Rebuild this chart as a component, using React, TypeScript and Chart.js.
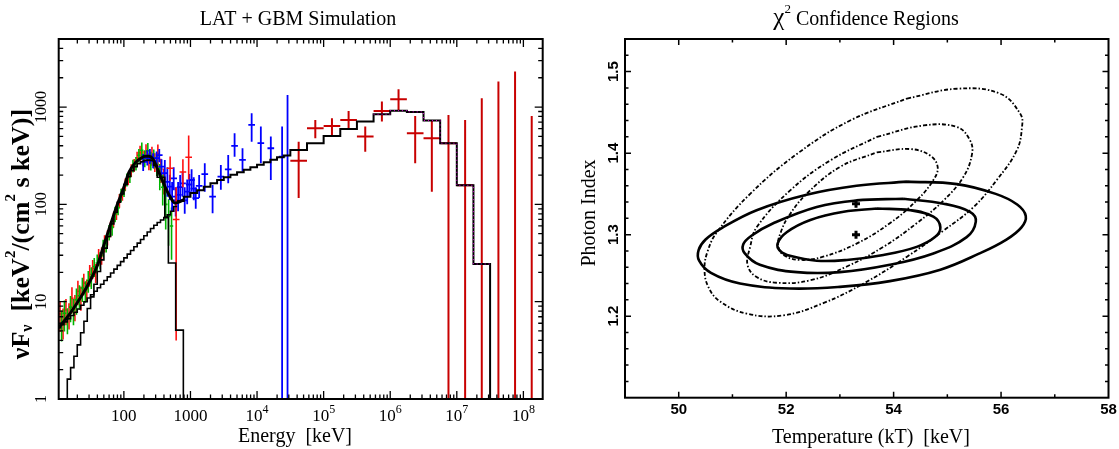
import { useEffect, useRef } from "react";
import { Chart, registerables } from "chart.js";

Chart.register(...registerables);

const SERIF = "'Liberation Serif','Times New Roman',serif";
const SANS = "'Liberation Sans',Arial,sans-serif";

// ================= LEFT PANEL: LAT + GBM Simulation =================
// smooth total model curve (keV, keV^2/(cm^2 s keV))
const modelE = [10.5, 15, 20, 25, 32, 40, 50, 60, 70, 80, 100, 120, 150, 180, 210, 240, 270, 310, 360, 437, 500, 583, 680, 780];
const modelF = [5.4, 7.3, 9.8, 12.5, 17, 23.5, 38, 56, 77, 100, 150, 215, 270, 298, 312, 312, 295, 244, 190, 141, 118, 103, 106, 111];

// power-law component (binned)
const plEdges = [10, 11.22, 12.59, 14.13, 15.85, 17.78, 19.95, 22.39, 25.12, 28.18, 31.62, 35.48, 39.81, 44.67, 50.12, 56.23, 63.1, 70.79, 79.43, 89.13, 100, 112.2, 125.9, 141.3, 158.5, 177.8, 199.5, 223.9, 251.2, 281.8, 316.2, 354.8, 398.1, 446.7, 501.2, 562.3, 631.0];
const plF = [5.4, 5.8, 6.2, 6.7, 7.2, 7.8, 8.4, 9.2, 10.0, 10.9, 11.8, 12.8, 13.9, 15.1, 16.5, 18.0, 19.7, 21.6, 23.6, 25.8, 28.2, 30.8, 33.6, 36.7, 40, 43.6, 47.5, 52, 56.5, 61, 65, 69, 73, 78, 85, 95];

// blackbody component (binned)
const bbEdges = [14.13, 15.85, 17.78, 19.95, 22.39, 25.12, 28.18, 31.62, 35.48, 39.81, 44.67, 50.12, 56.23, 63.1, 70.79, 79.43, 89.13, 100, 112.2, 125.9, 141.3, 158.5, 177.8, 199.5, 223.9, 251.2, 281.8, 316.2, 412, 466, 600, 782];
const bbF = [1.6, 2.1, 2.75, 3.6, 4.8, 6.3, 8.5, 11.2, 15.1, 20.4, 26.9, 35.5, 46.8, 63, 83, 105, 128, 160, 192, 222, 244, 262, 275, 282, 285, 282, 251, 190, 74, 25, 5.1];

// total model, BGO + LAT bins
const totEdges = [631, 794, 1000, 1259, 1585, 1995, 2512, 3162, 3981, 5012, 6310, 7943, 10000, 12589, 15849, 19953, 25119, 31623, 56234, 1e5, 177828, 316228, 562341, 1e6, 1778279, 3162278, 5623413, 1e7, 17782794, 31622777];
const totF = [108, 120, 131, 140, 152, 165, 178, 190, 202, 214, 227, 241, 255, 270, 288, 305, 318, 362, 425, 505, 596, 708, 843, 918, 891, 725, 425, 157, 24.4];

// NaI detector 1 (red)
const redE = [11, 12.2, 13.5, 15, 16.6, 18.4, 20.4, 22.6, 25, 27.7, 30.7, 34, 37.7, 41.8, 46.3, 51.3, 56.8, 63, 69.8, 77.3, 85.7, 95, 105, 116, 129, 143, 158, 175, 194, 215, 238, 264, 292, 324, 359, 398];
const redF = [7.5, 6.3, 8.2, 7.4, 10.8, 9.0, 12.8, 11.2, 15.5, 13.5, 19, 22, 20, 29, 30, 40, 46, 56, 70, 82, 110, 128, 160, 185, 225, 255, 300, 340, 300, 345, 280, 320, 275, 330, 230, 180];
const redErr = [0.35, 0.35, 0.3, 0.3, 0.3, 0.3, 0.28, 0.28, 0.25, 0.25, 0.25, 0.22, 0.22, 0.2, 0.2, 0.2, 0.18, 0.18, 0.18, 0.16, 0.16, 0.15, 0.15, 0.15, 0.15, 0.15, 0.16, 0.18, 0.18, 0.2, 0.2, 0.22, 0.22, 0.25, 0.28, 0.3];
// NaI detector 1, high-energy channels
const redHiE = [495, 610, 770, 940];
const redHiF = [235, 70, 215, 305];
const redHiLo = [175, 4, 150, 180];
const redHiHi = [310, 150, 290, 510];

// NaI detector 2 (green)
const greenE = [11.6, 12.8, 14.2, 15.8, 17.5, 19.4, 21.5, 23.8, 26.4, 29.2, 32.4, 35.9, 39.8, 44.1, 48.9, 54.2, 60.1, 66.6, 73.8, 81.8, 90.7, 100.5, 111, 123, 137, 152, 168, 186, 206, 229, 254, 281, 312, 346, 383, 425, 470, 520];
const greenF = [6.0, 7.6, 6.6, 8.8, 8.2, 10.5, 11.5, 13.8, 13, 16.5, 18, 23, 25, 27, 36, 40, 52, 58, 80, 92, 125, 140, 180, 195, 250, 265, 320, 360, 300, 355, 285, 300, 260, 200, 150, 100, 75, 60];
const greenErr = [0.35, 0.35, 0.3, 0.3, 0.3, 0.3, 0.28, 0.28, 0.25, 0.25, 0.25, 0.22, 0.22, 0.2, 0.2, 0.2, 0.18, 0.18, 0.18, 0.16, 0.16, 0.15, 0.15, 0.15, 0.15, 0.16, 0.16, 0.2, 0.2, 0.2, 0.22, 0.22, 0.25, 0.3, 0.35, 0.45, 0.5, 0.55];

// BGO (blue)
const blueE = [195, 225, 246, 275, 310, 340, 368, 412, 450, 490, 530, 560, 600, 652, 700, 760, 820, 893, 960, 1040, 1120, 1200, 1350, 1640, 2150, 2860, 3690, 4600, 6050, 8300, 11400, 16100, 23800, 28700];
const blueF = [273, 300, 309, 280, 299, 320, 244, 209, 170, 152, 120, 185, 110, 125, 150, 164, 110, 135, 160, 178, 145, 116, 155, 204, 120, 193, 229, 398, 286, 655, 425, 377, 309, 0.3];
const blueLo = [220, 250, 260, 235, 250, 270, 200, 150, 120, 111, 85, 140, 75, 85, 110, 120, 80, 100, 120, 135, 110, 90, 116, 135, 81, 141, 165, 309, 217, 441, 264, 178, 0.01, 0.01];
const blueHi = [330, 360, 370, 335, 350, 370, 290, 286, 240, 201, 170, 240, 150, 170, 200, 215, 150, 180, 205, 230, 190, 150, 200, 264, 158, 254, 322, 538, 377, 861, 629, 497, 629, 1331];

// LAT (dark red), quarter-decade bins
const latE = [42170, 74989, 133352, 237137, 421697, 749894, 1333521, 2371374, 4216965, 7498942, 13335214, 23713737, 42169650, 74989421, 133352143];
const latF = [281, 605, 640, 736, 497, 912, 1203, 538, 478, 425, 157, 24.4, 0.3, 0.3, 0.3];
const latLo = [116, 478, 517, 591, 348, 708, 934, 264, 135, 0.01, 0.01, 0.01, 0.01, 0.01, 0.01];
const latHi = [441, 736, 767, 912, 629, 1137, 1524, 811, 736, 829, 736, 1233, 1824, 2312, 811];

const leftXLabels: [number, string, string][] = [[100, "100", ""], [1000, "1000", ""], [1e4, "10", "4"], [1e5, "10", "5"], [1e6, "10", "6"], [1e7, "10", "7"], [1e8, "10", "8"]];
const leftYLabels: [number, string][] = [[1, "1"], [10, "10"], [100, "100"], [1000, "1000"]];

// ================= RIGHT PANEL: chi^2 confidence regions =================
const solidInner = [[53.69, 1.332], [54.31, 1.330], [54.74, 1.322], [54.87, 1.309], [54.77, 1.297], [54.43, 1.285], [53.81, 1.275], [53.13, 1.269], [52.57, 1.268], [52.07, 1.274], [51.89, 1.280], [51.84, 1.289], [52.01, 1.303], [52.45, 1.318], [53.07, 1.328]];
const solidMid = [[54.18, 1.344], [54.93, 1.338], [55.42, 1.328], [55.53, 1.316], [55.36, 1.297], [54.74, 1.277], [53.93, 1.263], [53.0, 1.254], [52.2, 1.254], [51.51, 1.263], [51.23, 1.277], [51.2, 1.288], [51.36, 1.299], [51.76, 1.314], [52.57, 1.334], [53.31, 1.342]];
const solidOuter = [[54.25, 1.365], [55.18, 1.362], [55.9, 1.350], [56.3, 1.337], [56.46, 1.323], [56.38, 1.309], [56.1, 1.294], [55.6, 1.277], [54.87, 1.257], [53.93, 1.243], [53.0, 1.236], [52.07, 1.234], [51.14, 1.240], [50.6, 1.253], [50.38, 1.268], [50.37, 1.281], [50.5, 1.294], [50.8, 1.308], [51.45, 1.330], [52.38, 1.349], [53.31, 1.360]];
const dashInner = [[53.69, 1.401], [54.31, 1.405], [54.68, 1.397], [54.82, 1.383], [54.74, 1.367], [54.43, 1.342], [53.93, 1.314], [53.31, 1.289], [52.69, 1.273], [52.26, 1.269], [51.95, 1.275], [51.85, 1.287], [51.9, 1.303], [52.04, 1.322], [52.38, 1.350], [53.0, 1.383]];
const dashMid = [[53.69, 1.420], [54.56, 1.434], [55.18, 1.432], [55.42, 1.416], [55.46, 1.399], [55.3, 1.371], [54.93, 1.342], [54.43, 1.314], [53.81, 1.285], [53.13, 1.261], [52.45, 1.244], [51.82, 1.241], [51.45, 1.248], [51.28, 1.263], [51.33, 1.285], [51.45, 1.309], [52.07, 1.354], [52.82, 1.391]];
const dashOuter = [[54.25, 1.467], [55.18, 1.479], [55.98, 1.473], [56.36, 1.448], [56.39, 1.432], [56.29, 1.403], [55.92, 1.367], [55.49, 1.334], [54.93, 1.305], [54.25, 1.273], [53.44, 1.240], [52.69, 1.216], [51.95, 1.201], [51.27, 1.203], [50.77, 1.218], [50.55, 1.236], [50.48, 1.258], [50.54, 1.280], [50.71, 1.303], [51.33, 1.350], [52.2, 1.399], [53.19, 1.440]];
const bestFitX = [53.3, 53.3];
const bestFitY = [1.30, 1.338];

const rightXLabels = [50, 52, 54, 56, 58];
const rightYLabels = [1.2, 1.3, 1.4, 1.5];

// ================= helpers =================
const FLOOR = 0.3;
type P = { x: number; y: number | null };

function stepPoints(edges: number[], vals: number[], dropStart: boolean, dropEnd: boolean): P[] {
  const pts: P[] = [];
  if (dropStart) pts.push({ x: edges[0], y: FLOOR });
  vals.forEach((v, i) => pts.push({ x: edges[i], y: v }));
  pts.push({ x: edges[edges.length - 1], y: vals[vals.length - 1] });
  if (dropEnd) pts.push({ x: edges[edges.length - 1], y: FLOOR });
  return pts;
}

function crossPoints(E: number[], F: number[], lo: number[], hi: number[], hw: number): P[] {
  const k = Math.pow(10, hw);
  const pts: P[] = [];
  E.forEach((e, i) => {
    pts.push({ x: e / k, y: F[i] }, { x: e * k, y: F[i] }, { x: e, y: null });
    pts.push({ x: e, y: lo[i] }, { x: e, y: hi[i] }, { x: e, y: null });
  });
  return pts;
}

function closed(pts: number[][]): P[] {
  const out = pts.map(([x, y]) => ({ x, y }));
  out.push({ x: pts[0][0], y: pts[0][1] });
  return out;
}

function lineDs(data: P[], color: string, width: number, extra: any = {}) {
  return {
    data,
    showLine: true,
    borderColor: color,
    backgroundColor: color,
    borderWidth: width,
    pointRadius: 0,
    pointHoverRadius: 0,
    fill: false,
    spanGaps: false,
    ...extra,
  };
}

type Seg = { t: string; f: string; dy?: number };
function drawRich(ctx: CanvasRenderingContext2D, segs: Seg[], cx: number, cy: number, rot = 0, baseline: CanvasTextBaseline = "alphabetic") {
  ctx.save();
  ctx.translate(cx, cy);
  if (rot) ctx.rotate(rot);
  ctx.textBaseline = baseline;
  ctx.textAlign = "left";
  ctx.fillStyle = "#000";
  let w = 0;
  for (const s of segs) {
    ctx.font = s.f;
    w += ctx.measureText(s.t).width;
  }
  let x = -w / 2;
  for (const s of segs) {
    ctx.font = s.f;
    ctx.fillText(s.t, x, s.dy || 0);
    x += ctx.measureText(s.t).width;
  }
  ctx.restore();
}

type T = { v: number; major: boolean };
function drawTicksFrame(chart: any, xt: T[], yt: T[], majL: number, minL: number, tickW: number, frameW: number) {
  const { ctx, chartArea: a } = chart;
  const xs = chart.scales.x;
  const ys = chart.scales.y;
  ctx.save();
  ctx.strokeStyle = "#000";
  ctx.lineWidth = tickW;
  ctx.beginPath();
  for (const t of xt) {
    const p = xs.getPixelForValue(t.v);
    const L = t.major ? majL : minL;
    ctx.moveTo(p, a.bottom);
    ctx.lineTo(p, a.bottom - L);
    ctx.moveTo(p, a.top);
    ctx.lineTo(p, a.top + L);
  }
  for (const t of yt) {
    const p = ys.getPixelForValue(t.v);
    const L = t.major ? majL : minL;
    ctx.moveTo(a.left, p);
    ctx.lineTo(a.left + L, p);
    ctx.moveTo(a.right, p);
    ctx.lineTo(a.right - L, p);
  }
  ctx.stroke();
  ctx.lineWidth = frameW;
  ctx.strokeRect(a.left, a.top, a.right - a.left, a.bottom - a.top);
  ctx.restore();
}

const leftXTicks: T[] = [];
for (let d = 1; d <= 8; d++)
  for (let m = 1; m <= 9; m++) {
    const v = m * Math.pow(10, d);
    if (v > 10.8 && v < 1.9e8) leftXTicks.push({ v, major: m === 1 });
  }
const leftYTicks: T[] = [];
for (let d = 0; d <= 3; d++)
  for (let m = 1; m <= 9; m++) {
    const v = m * Math.pow(10, d);
    if (v > 1.01 && v < 4900) leftYTicks.push({ v, major: m === 1 });
  }
const rightXTicks: T[] = [];
for (let v = 50; v <= 57; v++) rightXTicks.push({ v, major: v % 2 === 0 });
const rightYTicks: T[] = [];
for (let i = 1; i <= 21; i++) rightYTicks.push({ v: 1.1 + i * 0.02, major: i % 5 === 0 });

const leftPlugin = {
  id: "leftDeco",
  afterDraw(chart: any) {
    const ctx = chart.ctx as CanvasRenderingContext2D;
    drawTicksFrame(chart, leftXTicks, leftYTicks, 8, 4.5, 1.3, 2);
    const xs = chart.scales.x;
    const ys = chart.scales.y;
    for (const [v, base, sup] of leftXLabels) {
      const segs: Seg[] = [{ t: base, f: `17px ${SERIF}` }];
      if (sup) segs.push({ t: sup, f: `12px ${SERIF}`, dy: -8 });
      drawRich(ctx, segs, xs.getPixelForValue(v), 421);
    }
    for (const [v, s] of leftYLabels) {
      drawRich(ctx, [{ t: s, f: `16px ${SERIF}` }], 41.5, ys.getPixelForValue(v), -Math.PI / 2, "middle");
    }
    drawRich(ctx, [{ t: "LAT + GBM Simulation", f: `20px ${SERIF}` }], 298, 25);
    drawRich(ctx, [{ t: "Energy  [keV]", f: `20px ${SERIF}` }], 295, 442);
    const B = (s: number) => `bold ${s}px ${SERIF}`;
    drawRich(
      ctx,
      [
        { t: "νF", f: B(26) },
        { t: "ν", f: B(16), dy: 6 },
        { t: "  [keV", f: B(26) },
        { t: "2", f: B(15), dy: -11 },
        { t: "/(cm", f: B(26) },
        { t: "2", f: B(15), dy: -11 },
        { t: " s keV)]", f: B(26) },
      ],
      22,
      234,
      -Math.PI / 2,
      "middle"
    );
  },
};

const rightPlugin = {
  id: "rightDeco",
  afterDraw(chart: any) {
    const ctx = chart.ctx as CanvasRenderingContext2D;
    drawTicksFrame(chart, rightXTicks, rightYTicks, 6, 3.5, 1.5, 2);
    const xs = chart.scales.x;
    const ys = chart.scales.y;
    for (const v of rightXLabels) {
      drawRich(ctx, [{ t: String(v), f: `bold 15px ${SANS}` }], xs.getPixelForValue(v), 414);
    }
    for (const v of rightYLabels) {
      drawRich(ctx, [{ t: v.toFixed(1), f: `bold 15px ${SANS}` }], 54, ys.getPixelForValue(v), -Math.PI / 2, "middle");
    }
    drawRich(
      ctx,
      [
        { t: "χ", f: `25px ${SERIF}` },
        { t: "2", f: `13px ${SERIF}`, dy: -12 },
        { t: " Confidence Regions", f: `20px ${SERIF}` },
      ],
      306,
      25
    );
    drawRich(ctx, [{ t: "Temperature (kT)  [keV]", f: `20px ${SERIF}` }], 311, 443);
    drawRich(ctx, [{ t: "Photon Index", f: `20px ${SERIF}` }], 30, 213, -Math.PI / 2, "middle");
  },
};

function leftConfig(): any {
  const frac = (F: number[], e: number[], s: number) => F.map((f, i) => f * (1 + s * e[i]));
  return {
    type: "scatter",
    data: {
      datasets: [
        lineDs(modelE.map((x, i) => ({ x, y: modelF[i] })), "#000", 3, { cubicInterpolationMode: "monotone" }),
        lineDs(stepPoints(totEdges.slice(22), totF.slice(22), false, false), "#e000e0", 1, { stepped: "before", borderDash: [1, 3] }),
        lineDs(stepPoints(totEdges, totF, false, true), "#000", 2, { stepped: "before" }),
        lineDs(stepPoints(bbEdges, bbF, true, true), "#000", 1.6, { stepped: "before" }),
        lineDs(stepPoints(plEdges, plF, false, false), "#000", 1.6, { stepped: "before" }),
        lineDs(crossPoints(latE, latF, latLo, latHi, 0.125), "#c80000", 2),
        lineDs(crossPoints(redHiE, redHiF, redHiLo, redHiHi, 0.05), "#ff1010", 1.6),
        lineDs(crossPoints(blueE, blueF, blueLo, blueHi, 0.05), "#0000ff", 1.8),
        lineDs(crossPoints(greenE, greenF, frac(greenF, greenErr, -1), frac(greenF, greenErr, 1), 0.025), "#00b400", 1.6),
        lineDs(crossPoints(redE, redF, frac(redF, redErr, -1), frac(redF, redErr, 1), 0.025), "#ff1010", 1.6),
      ],
    },
    options: {
      responsive: false,
      animation: false,
      events: [],
      layout: { padding: { left: 58.7, right: 17.3, top: 39, bottom: 50 } },
      plugins: { legend: { display: false }, tooltip: { enabled: false }, title: { display: false } },
      scales: {
        x: { type: "logarithmic", min: 10.5, max: 1.95e8, display: false },
        y: { type: "logarithmic", min: 1, max: 5000, display: false },
      },
    },
    plugins: [leftPlugin],
  };
}

function rightConfig(): any {
  const dash = [4, 2, 1.5, 2];
  return {
    type: "scatter",
    data: {
      datasets: [
        {
          data: bestFitX.map((x, i) => ({ x, y: bestFitY[i] })),
          pointStyle: "cross",
          pointRadius: 4,
          borderWidth: 3,
          borderColor: "#000",
          backgroundColor: "#000",
          showLine: false,
        },
        lineDs(closed(solidInner), "#000", 2.6, { tension: 0.4 }),
        lineDs(closed(solidMid), "#000", 2.6, { tension: 0.4 }),
        lineDs(closed(solidOuter), "#000", 2.6, { tension: 0.4 }),
        lineDs(closed(dashInner), "#000", 1.8, { tension: 0.4, borderDash: dash }),
        lineDs(closed(dashMid), "#000", 1.8, { tension: 0.4, borderDash: dash }),
        lineDs(closed(dashOuter), "#000", 1.8, { tension: 0.4, borderDash: dash }),
      ],
    },
    options: {
      responsive: false,
      animation: false,
      events: [],
      layout: { padding: { left: 65, right: 10.5, top: 39, bottom: 51.3 } },
      plugins: { legend: { display: false }, tooltip: { enabled: false }, title: { display: false } },
      scales: {
        x: { type: "linear", min: 49, max: 58, display: false },
        y: { type: "linear", min: 1.1, max: 1.54, display: false },
      },
    },
    plugins: [rightPlugin],
  };
}

export default function App() {
  const leftRef = useRef<HTMLCanvasElement>(null);
  const rightRef = useRef<HTMLCanvasElement>(null);
  useEffect(() => {
    const c1 = new Chart(leftRef.current as HTMLCanvasElement, leftConfig());
    const c2 = new Chart(rightRef.current as HTMLCanvasElement, rightConfig());
    return () => {
      c1.destroy();
      c2.destroy();
    };
  }, []);
  return (
    <div style={{ position: "absolute", left: 0, top: 0, width: 1119, height: 449, background: "#fff" }}>
      <canvas ref={leftRef} width={560} height={449} style={{ position: "absolute", left: 0, top: 0, width: 560, height: 449 }} />
      <canvas ref={rightRef} width={559} height={449} style={{ position: "absolute", left: 560, top: 0, width: 559, height: 449 }} />
    </div>
  );
}
